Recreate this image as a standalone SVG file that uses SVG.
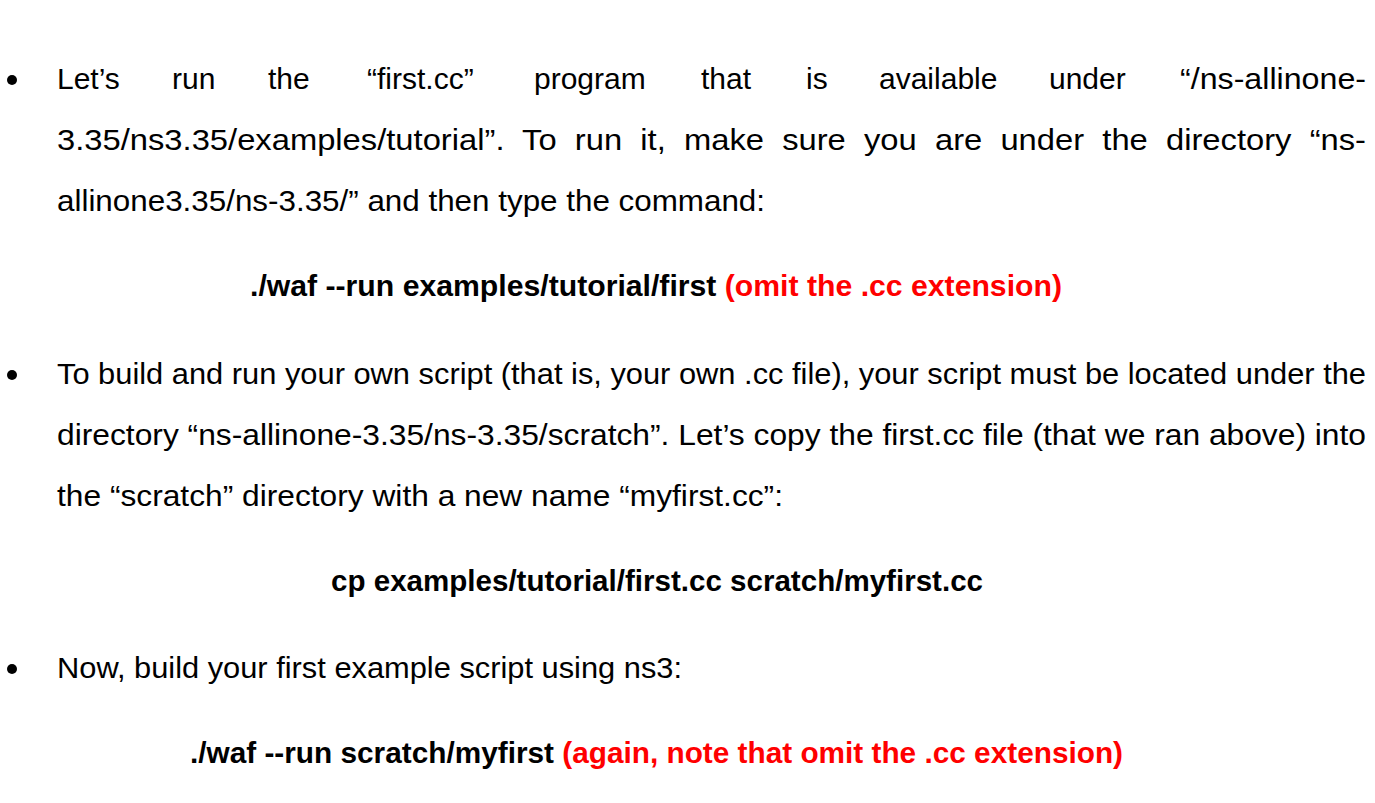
<svg xmlns="http://www.w3.org/2000/svg" width="1375" height="803" viewBox="0 0 1375 803">
<style>
text{font-family:"Liberation Sans",Arial,sans-serif;font-size:30px;fill:#000}
.c{font-size:29px}
.b{font-weight:bold}
.r{fill:#ff0000;font-weight:bold}
</style>
<rect width="1375" height="803" fill="#fff"/>
<g id="bullets">
<circle cx="12" cy="80" r="5"/>
<circle cx="12" cy="375" r="5"/>
<circle cx="12" cy="669" r="5"/>
</g>
<g id="para1">
<text x="57" y="89">Let’s</text>
<text x="172" y="89">run</text>
<text x="268" y="89">the</text>
<text x="367" y="89">“first.cc”</text>
<text x="534" y="89">program</text>
<text x="701" y="89">that</text>
<text x="806" y="89">is</text>
<text x="879" y="89">available</text>
<text x="1049" y="89">under</text>
<text x="1180" y="89" textLength="186" lengthAdjust="spacingAndGlyphs">“/ns-allinone-</text>
<text x="57" y="150" xml:space="preserve" textLength="1309" lengthAdjust="spacingAndGlyphs">3.35/ns3.35/examples/tutorial”.  To  run  it,  make  sure  you  are  under  the  directory  “ns-</text>
<text x="57" y="211" textLength="708" lengthAdjust="spacingAndGlyphs">allinone3.35/ns-3.35/” and then type the command:</text>
</g>
<g id="cmd1">
<text class="c" x="250" y="296" textLength="812" lengthAdjust="spacingAndGlyphs"><tspan class="b">./waf --run examples/tutorial/first </tspan><tspan class="r">(omit the .cc extension)</tspan></text>
</g>
<g id="para2">
<text x="57" y="384" textLength="1309" lengthAdjust="spacingAndGlyphs">To build and run your own script (that is, your own .cc file), your script must be located under the</text>
<text x="57" y="445" textLength="1309" lengthAdjust="spacingAndGlyphs">directory “ns-allinone-3.35/ns-3.35/scratch”. Let’s copy the first.cc file (that we ran above) into</text>
<text x="57" y="506" textLength="726" lengthAdjust="spacingAndGlyphs">the “scratch” directory with a new name “myfirst.cc”:</text>
</g>
<g id="cmd2">
<text class="b c" x="331" y="591" textLength="652" lengthAdjust="spacingAndGlyphs">cp examples/tutorial/first.cc scratch/myfirst.cc</text>
</g>
<g id="para3">
<text x="57" y="678" textLength="625" lengthAdjust="spacingAndGlyphs">Now, build your first example script using ns3:</text>
</g>
<g id="cmd3">
<text class="c" x="190" y="763" textLength="933" lengthAdjust="spacingAndGlyphs"><tspan class="b">./waf --run scratch/myfirst </tspan><tspan class="r">(again, note that omit the .cc extension)</tspan></text>
</g>
</svg>
